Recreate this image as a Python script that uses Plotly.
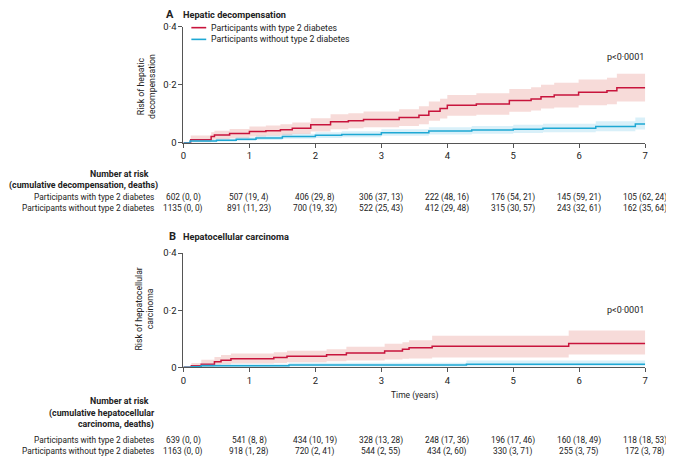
import plotly.graph_objects as go

# Panel A: hepatic decompensation (Kaplan-Meier style cumulative risk)
a_dm_t = [0, 0.11, 0.42, 0.47, 0.7, 1.0, 1.25, 1.47, 1.65, 1.93, 2.23, 2.5, 2.73, 3.27, 3.57,
          3.72, 3.89, 4.0, 4.44, 4.94, 5.27, 5.42, 5.62, 5.99, 6.42, 6.57, 7.0]
a_dm_risk = [0, 0.011, 0.022, 0.027, 0.032, 0.039, 0.042, 0.045, 0.05, 0.062, 0.073, 0.076, 0.08,
             0.087, 0.095, 0.109, 0.118, 0.129, 0.134, 0.146, 0.151, 0.159, 0.165, 0.174, 0.179,
             0.19, 0.19]
a_dm_lo = [0, 0.002, 0.009, 0.012, 0.016, 0.022, 0.024, 0.026, 0.03, 0.039, 0.047, 0.05, 0.054,
           0.058, 0.064, 0.076, 0.084, 0.093, 0.097, 0.107, 0.111, 0.118, 0.122, 0.129, 0.133,
           0.142, 0.142]
a_dm_hi = [0, 0.025, 0.036, 0.042, 0.048, 0.056, 0.06, 0.064, 0.07, 0.085, 0.098, 0.102, 0.108,
           0.116, 0.126, 0.142, 0.152, 0.165, 0.171, 0.185, 0.191, 0.2, 0.207, 0.218, 0.224,
           0.238, 0.238]

a_no_t = [0, 0.1, 0.5, 0.8, 1.1, 1.5, 2.0, 2.4, 3.0, 3.72, 4.37, 5.0, 5.45, 6.25, 6.85, 7.0]
a_no_risk = [0, 0.006, 0.009, 0.012, 0.017, 0.022, 0.026, 0.029, 0.035, 0.041, 0.044, 0.047,
             0.05, 0.056, 0.065, 0.065]
a_no_lo = [0, 0.002, 0.004, 0.006, 0.01, 0.014, 0.017, 0.019, 0.024, 0.029, 0.031, 0.034, 0.036,
           0.04, 0.046, 0.046]
a_no_hi = [0, 0.011, 0.015, 0.019, 0.025, 0.031, 0.036, 0.04, 0.047, 0.054, 0.058, 0.062, 0.066,
           0.074, 0.087, 0.087]

# Panel B: hepatocellular carcinoma
b_dm_t = [0, 0.12, 0.27, 0.47, 0.57, 0.72, 1.37, 1.57, 2.17, 2.47, 3.05, 3.32, 3.42, 3.77, 5.84, 7.0]
b_dm_risk = [0, 0.005, 0.011, 0.019, 0.025, 0.03, 0.034, 0.039, 0.044, 0.05, 0.057, 0.063, 0.068,
             0.074, 0.083, 0.083]
b_dm_lo = [0, 0.0, 0.002, 0.006, 0.01, 0.013, 0.015, 0.018, 0.021, 0.024, 0.027, 0.03, 0.031,
           0.034, 0.045, 0.045]
b_dm_hi = [0, 0.015, 0.026, 0.036, 0.043, 0.048, 0.053, 0.058, 0.063, 0.072, 0.082, 0.088, 0.095,
           0.11, 0.129, 0.129]

b_no_t = [0, 0.12, 0.27, 1.6, 4.29, 7.0]
b_no_risk = [0, 0.002, 0.005, 0.008, 0.011, 0.011]
b_no_lo = [0, 0.0, 0.001, 0.003, 0.004, 0.004]
b_no_hi = [0, 0.006, 0.012, 0.016, 0.024, 0.024]

# Number at risk tables: (at risk, cumulative events, deaths) per year 0..7
years = [0, 1, 2, 3, 4, 5, 6, 7]
a_dm_n = [602, 507, 406, 306, 222, 176, 145, 105]
a_dm_ev = [0, 19, 29, 37, 48, 54, 59, 62]
a_dm_d = [0, 4, 8, 13, 16, 21, 21, 24]
a_no_n = [1135, 891, 700, 522, 412, 315, 243, 162]
a_no_ev = [0, 11, 19, 25, 29, 30, 32, 35]
a_no_d = [0, 23, 32, 43, 48, 57, 61, 64]
b_dm_n = [639, 541, 434, 328, 248, 196, 160, 118]
b_dm_ev = [0, 8, 10, 13, 17, 17, 18, 18]
b_dm_d = [0, 8, 19, 28, 36, 46, 49, 53]
b_no_n = [1163, 918, 720, 544, 434, 330, 255, 172]
b_no_ev = [0, 1, 2, 2, 2, 3, 3, 3]
b_no_d = [0, 28, 41, 55, 60, 71, 75, 78]

labels = ["Participants with type 2 diabetes", "Participants without type 2 diabetes"]

RED = "#c8143c"
RED_BAND = "rgba(232,150,145,0.34)"
BLUE = "#1ea8d4"
BLUE_BAND = "rgba(120,200,235,0.28)"
FONT = "Roboto, sans-serif"
TXT = "#222222"
# the page body adds an 8px margin, so the figure is shrunk and coordinates shifted
OFF = 8
W, H = 674 - OFF, 464 - OFF


def px(x):
    return (x - OFF) / W


def py(y):
    return 1 - (y - OFF) / H


fig = go.Figure()


def add_curve(t, risk, lo, hi, color, band, xa, ya):
    fig.add_trace(go.Scatter(x=t, y=lo, mode="lines", line=dict(width=0, shape="hv"),
                             xaxis=xa, yaxis=ya, showlegend=False, hoverinfo="skip"))
    fig.add_trace(go.Scatter(x=t, y=hi, mode="lines", line=dict(width=0, shape="hv"),
                             fill="tonexty", fillcolor=band,
                             xaxis=xa, yaxis=ya, showlegend=False, hoverinfo="skip"))
    fig.add_trace(go.Scatter(x=t, y=risk, mode="lines", line=dict(color=color, width=1.5, shape="hv"),
                             xaxis=xa, yaxis=ya, showlegend=False))


add_curve(a_dm_t, a_dm_risk, a_dm_lo, a_dm_hi, RED, RED_BAND, "x", "y")
add_curve(a_no_t, a_no_risk, a_no_lo, a_no_hi, BLUE, BLUE_BAND, "x", "y")
add_curve(b_dm_t, b_dm_risk, b_dm_lo, b_dm_hi, RED, RED_BAND, "x2", "y2")
add_curve(b_no_t, b_no_risk, b_no_lo, b_no_hi, BLUE, BLUE_BAND, "x2", "y2")

axis_common = dict(showline=True, linecolor="#555555", linewidth=1, ticks="outside",
                   ticklen=4, tickcolor="#555555", showgrid=False, zeroline=False,
                   tickfont=dict(family=FONT, size=9.5, color=TXT))
x_dom = [px(182), px(648)]
fig.update_layout(
    xaxis=dict(domain=x_dom, range=[0, 7], tickvals=years, anchor="y", **axis_common),
    yaxis=dict(domain=[py(140), py(21)], range=[0, 0.4], tickvals=[0, 0.2, 0.4],
               ticktext=["0", "0·2", "0·4"], anchor="x", **axis_common),
    xaxis2=dict(domain=x_dom, range=[0, 7], tickvals=years, anchor="y2", **axis_common),
    yaxis2=dict(domain=[py(370), py(253)], range=[0, 0.4], tickvals=[0, 0.2, 0.4],
                ticktext=["0", "0·2", "0·4"], anchor="x2", **axis_common),
    width=W, height=H,
    margin=dict(l=0, r=0, t=0, b=0),
    plot_bgcolor="white", paper_bgcolor="white",
    font=dict(family=FONT, size=9, color=TXT),
    showlegend=False,
)

ann = []


def note(x, y, text, size=8.5, anchor="left", bold=False, **kw):
    if bold:
        text = f"<b>{text}</b>"
    ann.append(dict(x=x, y=y, xref="paper", yref="paper", text=text, showarrow=False,
                    xanchor=anchor, yanchor="middle", font=dict(family=FONT, size=size, color=TXT), **kw))


# panel titles
note(px(162), py(8), "A", size=11, bold=True)
note(px(180), py(8), "Hepatic decompensation", size=9.2, bold=True)
note(px(165), py(236), "B", size=11, bold=True)
note(px(180), py(236), "Hepatocellular carcinoma", size=9.2, bold=True)

# legend
for i, (lab, col) in enumerate(zip(labels, [RED, BLUE])):
    yy = py(22 + 12 * i)
    fig.add_shape(type="line", xref="paper", yref="paper", x0=px(190), x1=px(205), y0=yy, y1=yy,
                  line=dict(color=col, width=1.6))
    note(px(208), yy, lab, size=8.7)

# y titles and p values
note(px(144), py(82), "Risk of hepatic<br>decompensation", size=8.7, anchor="center", textangle=-90)
note(px(143), py(310), "Risk of hepatocellular<br>carcinoma", size=8.7, anchor="center", textangle=-90)
note(px(649), py(52), "p<0·0001", size=9, anchor="right")
note(px(649), py(311), "p<0·0001", size=9, anchor="right")
note(px(415), py(399), "Time (years)", size=8.5, anchor="center")

# number at risk tables
note(px(149), py(172), "Number at risk", size=8.8, anchor="right", bold=True)
note(px(158), py(184), "(cumulative decompensation, deaths)", size=8.8, anchor="right", bold=True)
note(px(149), py(405), "Number at risk", size=8.8, anchor="right", bold=True)
note(px(155), py(417), "(cumulative hepatocellular", size=8.8, anchor="right", bold=True)
note(px(154), py(429), "carcinoma, deaths)", size=8.8, anchor="right", bold=True)

rows = [
    (196, labels[0], a_dm_n, a_dm_ev, a_dm_d, "x"),
    (207, labels[1], a_no_n, a_no_ev, a_no_d, "x"),
    (445, labels[0], b_dm_n, b_dm_ev, b_dm_d, "x2"),
    (456, labels[1], b_no_n, b_no_ev, b_no_d, "x2"),
]
for ypix, lab, n, ev, d, xr in rows:
    note(px(154), py(ypix), lab, size=8.3, anchor="right")
    for yr, a, b, c in zip(years, n, ev, d):
        ann.append(dict(x=yr, y=py(ypix), xref=xr, yref="paper", text=f"{a} ({b}, {c})",
                        showarrow=False, xanchor="center", yanchor="middle",
                        font=dict(family=FONT, size=8.3, color=TXT)))

fig.update_layout(annotations=ann)
fig.write_html("out.html")
